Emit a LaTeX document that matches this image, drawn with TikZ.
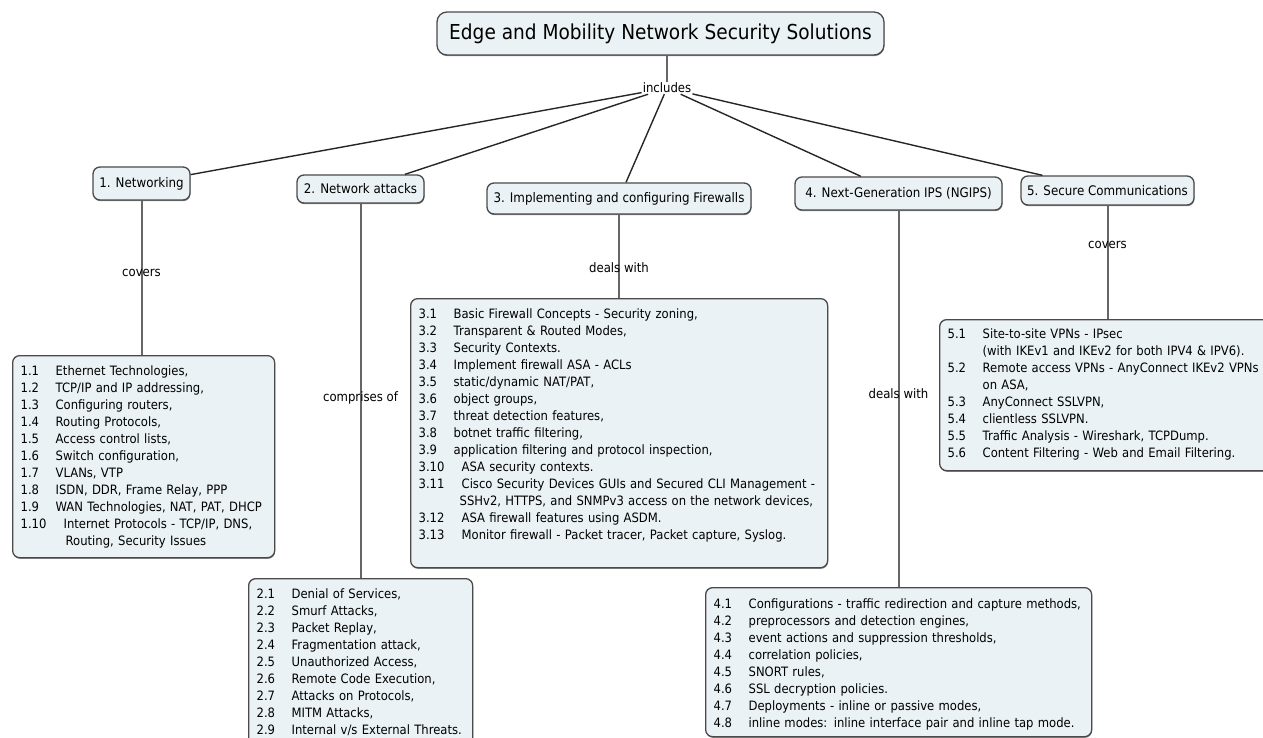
\documentclass[tikz,border=0pt]{standalone}
\usepackage{fontspec}
\setmainfont{DejaVu Sans}[FakeStretch=0.9]
\usepackage{tikz}
\usetikzlibrary{shadows}

\definecolor{boxfill}{HTML}{EBF2F5}
\definecolor{boxline}{HTML}{4A4A4A}
\definecolor{linkgray}{HTML}{666666}

% one numbered line of a list, and a line that goes on from the one above
\newcommand{\entry}[2]{\mbox{\makebox[35pt][l]{#1}#2}}
\newcommand{\entryw}[2]{\mbox{\makebox[43pt][l]{#1}#2}}
\newcommand{\contd}[2][45pt]{\mbox{\hspace*{#1}#2}}

\begin{document}
\begin{tikzpicture}[
  x=1pt, y=-1pt,
  boxshadow/.style={drop shadow={shadow xshift=0.4pt, shadow yshift=-1.2pt, fill=black, opacity=0.45}},
  head/.style={boxshadow, draw=boxline, fill=boxfill, line width=1.3pt, rounded corners=7pt, inner sep=0pt, font=\fontsize{13.2}{15}\selectfont},
  listbox/.style={boxshadow, draw=boxline, fill=boxfill, line width=1.3pt, rounded corners=7pt, anchor=north west, align=left, inner xsep=8pt, inner ysep=0pt, font=\fontsize{12.9}{17}\selectfont},
  lbl/.style={inner sep=1pt, font=\fontsize{13}{15}\selectfont},
  link/.style={draw=black!85, line width=1.4pt},
  drop/.style={draw=linkgray, line width=2pt},
]
\useasboundingbox (0,0) rectangle (1263,738);

% root and the word that joins it to the five topics
\node[head, minimum width=447pt, minimum height=43pt, rounded corners=10pt, font=\fontsize{20.6}{24}\selectfont] (title) at (660.5,33.5) {Edge and Mobility Network Security Solutions};
\node[lbl] (inc) at (667,88) {includes};

% topics
\node[head, minimum width=97pt, minimum height=33pt] (h1) at (141.5,183.5) {1. Networking};
\node[head, minimum width=127pt, minimum height=28pt] (h2) at (360.5,189) {2. Network attacks};
\node[head, minimum width=264pt, minimum height=31pt] (h3) at (619,198.5) {3. Implementing and configuring Firewalls};
\node[head, minimum width=207pt, minimum height=33pt] (h4) at (898.5,193.5) {4. Next-Generation IPS (NGIPS)};
\node[head, minimum width=173pt, minimum height=29pt] (h5) at (1107.5,190.5) {5. Secure Communications};

% lists under the topics
\node[listbox, text width=246pt, text height=19.5pt, text depth=182.5pt] (l1) at (12,355) {%
\entry{1.1}{Ethernet Technologies,}\\
\entry{1.2}{TCP/IP and IP addressing,}\\
\entry{1.3}{Configuring routers,}\\
\entry{1.4}{Routing Protocols,}\\
\entry{1.5}{Access control lists,}\\
\entry{1.6}{Switch configuration,}\\
\entry{1.7}{VLANs, VTP}\\
\entry{1.8}{ISDN, DDR, Frame Relay, PPP}\\
\entry{1.9}{WAN Technologies, NAT, PAT, DHCP}\\
\entryw{1.10}{Internet Protocols - TCP/IP, DNS,}\\
\contd{Routing, Security Issues}};

\node[listbox, text width=208pt, text height=19.5pt, text depth=170pt] (l2) at (248,578) {%
\entry{2.1}{Denial of Services,}\\
\entry{2.2}{Smurf Attacks,}\\
\entry{2.3}{Packet Replay,}\\
\entry{2.4}{Fragmentation attack,}\\
\entry{2.5}{Unauthorized Access,}\\
\entry{2.6}{Remote Code Execution,}\\
\entry{2.7}{Attacks on Protocols,}\\
\entry{2.8}{MITM Attacks,}\\
\entry{2.9}{Internal v/s External Threats.}};

\node[listbox, text width=401pt, text height=19.5pt, text depth=249.5pt] (l3) at (410,298) {%
\entry{3.1}{Basic Firewall Concepts - Security zoning,}\\
\entry{3.2}{Transparent \& Routed Modes,}\\
\entry{3.3}{Security Contexts.}\\
\entry{3.4}{Implement firewall ASA - ACLs}\\
\entry{3.5}{static/dynamic NAT/PAT,}\\
\entry{3.6}{object groups,}\\
\entry{3.7}{threat detection features,}\\
\entry{3.8}{botnet traffic filtering,}\\
\entry{3.9}{application filtering and protocol inspection,}\\
\entryw{3.10}{ASA security contexts.}\\
\entryw{3.11}{Cisco Security Devices GUIs and Secured CLI Management -}\\
\contd[41pt]{SSHv2, HTTPS, and SNMPv3 access on the network devices,}\\
\entryw{3.12}{ASA firewall features using ASDM.}\\
\entryw{3.13}{Monitor firewall - Packet tracer, Packet capture, Syslog.}};

\node[listbox, text width=370pt, text height=20.5pt, text depth=128.5pt] (l4) at (705,587) {%
\entry{4.1}{Configurations - traffic redirection and capture methods,}\\
\entry{4.2}{preprocessors and detection engines,}\\
\entry{4.3}{event actions and suppression thresholds,}\\
\entry{4.4}{correlation policies,}\\
\entry{4.5}{SNORT rules,}\\
\entry{4.6}{SSL decryption policies.}\\
\entry{4.7}{Deployments - inline or passive modes,}\\
\entry{4.8}{inline modes: inline interface pair and inline tap mode.}};

\node[listbox, text width=330pt, text height=18.5pt, text depth=132.5pt] (l5) at (939,319) {%
\entry{5.1}{Site-to-site VPNs - IPsec}\\
\contd[35pt]{(with IKEv1 and IKEv2 for both IPV4 \& IPV6).}\\
\entry{5.2}{Remote access VPNs - AnyConnect IKEv2 VPNs}\\
\contd[35pt]{on ASA,}\\
\entry{5.3}{AnyConnect SSLVPN,}\\
\entry{5.4}{clientless SSLVPN.}\\
\entry{5.5}{Traffic Analysis - Wireshark, TCPDump.}\\
\entry{5.6}{Content Filtering - Web and Email Filtering.}};

% connectors
\draw[drop] (title.south -| inc) -- (inc);
\foreach \h in {h1,h2,h3,h4,h5}
  \draw[link] (inc) -- (\h);
\draw[drop] (h1) -- (h1 |- l1.north) node[lbl, pos=0.47] {covers};
\draw[drop] (h2) -- (h2 |- l2.north) node[lbl, pos=0.52] {comprises of};
\draw[drop] (h3) -- (h3 |- l3.north) node[lbl, pos=0.63] {deals with};
\draw[drop] (h4) -- (h4 |- l4.north) node[lbl, pos=0.485] {deals with};
\draw[drop] (h5) -- (h5 |- l5.north) node[lbl, pos=0.35] {covers};

\end{tikzpicture}
\end{document}
